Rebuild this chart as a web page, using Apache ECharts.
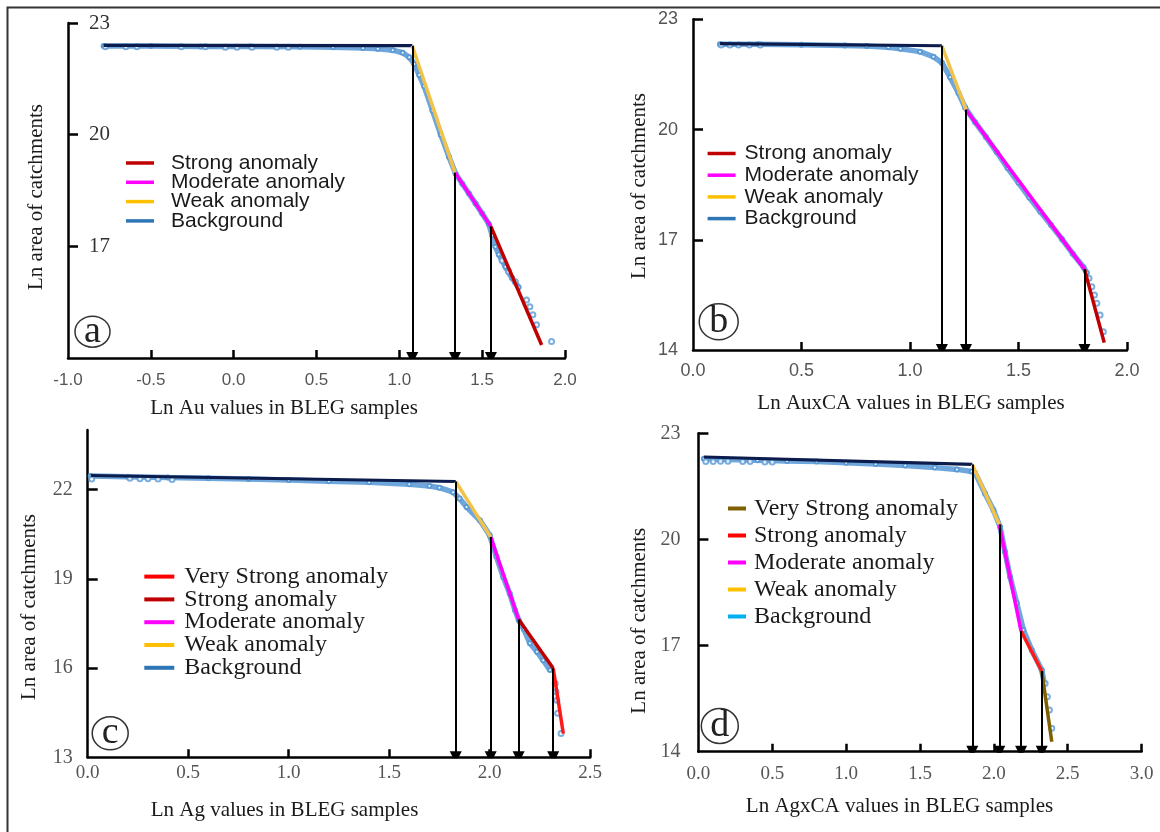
<!DOCTYPE html>
<html><head><meta charset="utf-8">
<script src="https://cdn.jsdelivr.net/npm/echarts@6/dist/echarts.min.js"></script>
<style>html,body{margin:0;padding:0;background:#fff}#c{width:1160px;height:832px}</style>
</head><body><div id="c"></div>
<script>
// ---------------- DATA ----------------
// Panel a: Ln Au
const curveA = [[-0.785,22.38],[-0.5,22.38],[-0.2,22.37],[0.1,22.37],[0.4,22.36],[0.6,22.35],[0.78,22.33],[0.87,22.31],[0.96,22.27],[1.02,22.2],[1.06,22.08],[1.09,21.9],[1.12,21.6],[1.15,21.3],[1.2,20.65],[1.25,20.0],[1.3,19.4],[1.34,18.95],[1.38,18.68],[1.42,18.42],[1.46,18.15],[1.5,17.88],[1.54,17.6],[1.56,17.3],[1.58,16.99],[1.6,16.78],[1.64,16.45],[1.68,16.15],[1.72,15.9]];
const dotsA = [[-0.774,22.36],[-0.651,22.36],[-0.584,22.36],[-0.316,22.36],[-0.171,22.36],[-0.05,22.35],[0.02,22.35],[0.11,22.35],[0.26,22.35],[0.33,22.35],[1.62,16.62],[1.66,16.32],[1.7,16.05],[1.768,15.56],[1.788,15.38],[1.806,15.16],[1.828,14.89],[1.919,14.44]];
const fitXA = [-0.785, 1.078, 1.336, 1.553, 1.859];
const fitYA = [22.40, 22.39, 18.98, 17.53, 14.35];
const segNamesA = ['Background','Weak anomaly','Moderate anomaly','Strong anomaly'];
const legendA = ['Strong anomaly','Moderate anomaly','Weak anomaly','Background'];
const xLabelsA = [-1.0,-0.5,0.0,0.5,1.0,1.5,2.0];
const yLabelsA = [17,20,23];

// Panel b: Ln AuxCA
const curveB = [[0.124,22.32],[0.3,22.32],[0.5,22.31],[0.7,22.29],[0.8,22.27],[0.9,22.24],[0.956,22.2],[1.046,22.12],[1.108,21.98],[1.147,21.82],[1.185,21.42],[1.223,21.0],[1.254,20.6],[1.3,20.2],[1.35,19.8],[1.4,19.38],[1.45,18.95],[1.5,18.55],[1.55,18.15],[1.6,17.77],[1.65,17.4],[1.7,17.02],[1.75,16.62],[1.8,16.25],[1.815,16.1]];
const dotsB = [[0.13,22.3],[0.17,22.3],[0.21,22.3],[0.26,22.3],[0.31,22.3],[1.825,15.95],[1.838,15.72],[1.85,15.5],[1.861,15.27],[1.876,14.95],[1.891,14.5]];
const fitXB = [0.124, 1.147, 1.258, 1.804, 1.895];
const fitYB = [22.34, 22.28, 20.54, 16.2, 14.2];
const segNamesB = ['Background','Weak anomaly','Moderate anomaly','Strong anomaly'];
const legendB = ['Strong anomaly','Moderate anomaly','Weak anomaly','Background'];
const xLabelsB = [0.0,0.5,1.0,1.5,2.0];
const yLabelsB = [14,17,20,23];

// Panel c: Ln Ag
const curveC = [[0.015,22.45],[0.2,22.43],[0.4,22.4],[0.6,22.38],[0.8,22.35],[1.0,22.32],[1.2,22.28],[1.4,22.24],[1.6,22.18],[1.7,22.12],[1.75,22.06],[1.818,21.91],[1.85,21.7],[1.885,21.41],[1.952,20.96],[2.0,20.46],[2.033,19.75],[2.067,19.06],[2.1,18.5],[2.126,17.94],[2.145,17.6],[2.17,17.3],[2.2,16.83],[2.235,16.55],[2.266,16.26],[2.3,15.93]];
const dotsC = [[0.02,22.35],[0.21,22.38],[0.26,22.36],[0.3,22.36],[0.35,22.35],[0.42,22.34],[2.326,15.48],[2.33,15.2],[2.334,14.92],[2.338,14.48],[2.355,13.8]];
const fitXC = [0.015, 1.831, 2.005, 2.144, 2.316, 2.366];
const fitYC = [22.47, 22.27, 20.4, 17.63, 15.99, 13.8];
const segNamesC = ['Background','Weak anomaly','Moderate anomaly','Strong anomaly','Very Strong anomaly'];
const legendC = ['Very Strong anomaly','Strong anomaly','Moderate anomaly','Weak anomaly','Background'];
const xLabelsC = [0.0,0.5,1.0,1.5,2.0,2.5];
const yLabelsC = [13,16,19,22];

// Panel d: Ln AgxCA
const curveD = [[0.037,22.28],[0.2,22.26],[0.4,22.24],[0.6,22.22],[0.8,22.2],[1.0,22.17],[1.2,22.13],[1.4,22.09],[1.6,22.03],[1.75,21.98],[1.85,21.92],[1.873,21.88],[1.94,21.3],[1.997,20.83],[2.042,20.36],[2.075,19.65],[2.11,18.94],[2.155,18.2],[2.2,17.44],[2.257,16.87],[2.324,16.31],[2.34,15.95]];
const dotsD = [[0.05,22.2],[0.1,22.2],[0.15,22.21],[0.2,22.21],[0.3,22.2],[0.35,22.2],[0.45,22.19],[0.5,22.19],[2.347,15.93],[2.362,15.55],[2.376,15.18],[2.392,14.66]];
const fitXD = [0.037, 1.854, 2.037, 2.184, 2.324, 2.392];
const fitYD = [22.33, 22.12, 20.42, 17.41, 16.28, 14.28];
const segNamesD = ['Background','Weak anomaly','Moderate anomaly','Strong anomaly','Very Strong anomaly'];
const legendD = ['Very Strong anomaly','Strong anomaly','Moderate anomaly','Weak anomaly','Background'];
const xLabelsD = [0.0,0.5,1.0,1.5,2.0,2.5,3.0];
const yLabelsD = [14,17,20,23];

// ---------------- STYLE / LAYOUT ----------------
const SERIF = "'Liberation Serif','Times New Roman',serif";
const SANS = "'Liberation Sans',Arial,sans-serif";
const NAVY = '#0c1c4c', YEL = '#f2c34a', MAG = '#ff00ff', DRED = '#c00000', RED = '#ff1a1a', OLIVE = '#7f6000';
const legendColor = {
  a: {'Strong anomaly':DRED,'Moderate anomaly':MAG,'Weak anomaly':'#ffc000','Background':'#2e75b6'},
  b: {'Strong anomaly':DRED,'Moderate anomaly':MAG,'Weak anomaly':'#ffc000','Background':'#2e75b6'},
  c: {'Very Strong anomaly':'#ff0000','Strong anomaly':DRED,'Moderate anomaly':MAG,'Weak anomaly':'#ffc000','Background':'#2e75b6'},
  d: {'Very Strong anomaly':OLIVE,'Strong anomaly':'#ff0000','Moderate anomaly':MAG,'Weak anomaly':'#ffc000','Background':'#00b0f0'}
};

const panels = [
 {id:'a', grid:{left:68,top:23,width:497,height:335}, xMin:-1, xMax:2, yMin:14, yMax:23,
  xLabels:xLabelsA, xTicks:xLabelsA.slice(1), yLabels:yLabelsA, yTicks:[17,20,23],
  xFont:SANS, xSize:17, xColor:'#555', xMargin:14, yFont:SERIF, ySize:21, yColor:'#333', yInside:true, yMargin:21,
  curve:curveA, dots:dotsA, fitX:fitXA, fitY:fitYA, segNames:segNamesA, segColors:[NAVY,YEL,MAG,DRED],
  legend:{names:legendA, left:126, top:152.5, w:28, h:3.5, gap:-1.7, font:SANS, size:21, lh:21, pad:12},
  xName:{text:'Ln Au values in BLEG samples', x:284, y:408}, yName:{text:'Ln area of catchments', x:36, y:197},
  tag:{t:'a', cx:92.5, cy:331.7, rx:17.5, ry:15.5}},
 {id:'b', grid:{left:693,top:19.3,width:434,height:330.7}, xMin:0, xMax:2, yMin:14, yMax:23,
  xLabels:xLabelsB, xTicks:xLabelsB.slice(1), yLabels:yLabelsB, yTicks:[17,20,23],
  xFont:SANS, xSize:18, xColor:'#555', xMargin:12, yFont:SANS, ySize:18, yColor:'#555', yInside:false, yMargin:15,
  curve:curveB, dots:dotsB, fitX:fitXB, fitY:fitYB, segNames:segNamesB, segColors:[NAVY,YEL,MAG,DRED],
  legend:{names:legendB, left:707.6, top:143, w:28, h:3.5, gap:0.7, font:SANS, size:21, lh:21, pad:4},
  xName:{text:'Ln AuxCA values in BLEG samples', x:911, y:403}, yName:{text:'Ln area of catchments', x:639, y:186},
  tag:{t:'b', cx:718.7, cy:321.7, rx:19.5, ry:18}},
 {id:'c', grid:{left:87.7,top:430,width:502.5,height:327.3}, xMin:0, xMax:2.5, yMin:13, yMax:24,
  xLabels:xLabelsC, xTicks:xLabelsC.slice(1), yLabels:yLabelsC, yTicks:[16,19,22],
  xFont:SERIF, xSize:19, xColor:'#555', xMargin:6, yFont:SERIF, ySize:20, yColor:'#555', yInside:false, yMargin:15,
  curve:curveC, dots:dotsC, fitX:fitXC, fitY:fitYC, segNames:segNamesC, segColors:[NAVY,YEL,MAG,DRED,RED],
  legend:{names:legendC, left:144.3, top:564.6, w:30, h:4, gap:-1.2, font:SERIF, size:24, lh:24, pad:5},
  xName:{text:'Ln Ag values in BLEG samples', x:284.5, y:810}, yName:{text:'Ln area of catchments', x:29, y:607},
  tag:{t:'c', cx:110.2, cy:733.3, rx:18, ry:16.5}},
 {id:'d', grid:{left:698.4,top:433.3,width:443.2,height:318.4}, xMin:0, xMax:3, yMin:14, yMax:23,
  xLabels:xLabelsD, xTicks:xLabelsD.slice(1), yLabels:yLabelsD, yTicks:[17,20,23],
  xFont:SERIF, xSize:19, xColor:'#555', xMargin:13, yFont:SERIF, ySize:20, yColor:'#555', yInside:false, yMargin:18,
  curve:curveD, dots:dotsD, fitX:fitXD, fitY:fitYD, segNames:segNamesD, segColors:[NAVY,YEL,MAG,RED,OLIVE],
  legend:{names:legendD, left:728, top:496.5, w:18, h:4, gap:3, font:SERIF, size:24, lh:24, pad:3},
  xName:{text:'Ln AgxCA values in BLEG samples', x:899.5, y:806.7}, yName:{text:'Ln area of catchments', x:639, y:620.7},
  tag:{t:'d', cx:719.8, cy:726, rx:18.5, ry:17.5}}
];

const AX = {color:'#000', width:2.5};
const option = {animation:false, backgroundColor:'#fff', grid:[], xAxis:[], yAxis:[], series:[], legend:[], graphic:[]};

panels.forEach((p, i) => {
  option.grid.push(Object.assign({containLabel:false}, p.grid));
  option.xAxis.push({type:'value', gridIndex:i, min:p.xMin, max:p.xMax, interval:0.5,
    axisLine:{show:true, onZero:false, lineStyle:AX},
    axisTick:{show:true, inside:true, length:8, lineStyle:AX, customValues:p.xTicks},
    axisLabel:{customValues:p.xLabels, formatter:v=>Number(v).toFixed(1), margin:p.xMargin,
      fontFamily:p.xFont, fontSize:p.xSize, color:p.xColor, showMinLabel:true, showMaxLabel:true},
    splitLine:{show:false}});
  option.yAxis.push({type:'value', gridIndex:i, min:p.yMin, max:p.yMax, interval:3,
    axisLine:{show:true, onZero:false, lineStyle:AX},
    axisTick:{show:true, inside:true, length:10, lineStyle:AX, customValues:p.yTicks},
    axisLabel:{customValues:p.yLabels, inside:p.yInside, margin:p.yMargin,
      fontFamily:p.yFont, fontSize:p.ySize, color:p.yColor},
    splitLine:{show:false}});
  // data curve (thick blue band of points)
  option.series.push({type:'line', name:'Background', xAxisIndex:i, yAxisIndex:i, data:p.curve,
    symbol:'emptyCircle', symbolSize:4, showSymbol:true, silent:true, z:2,
    lineStyle:{width:5.5, color:'#6fa6dc'}, itemStyle:{color:'#5b9bd5', borderWidth:1}});
  option.series.push({type:'scatter', xAxisIndex:i, yAxisIndex:i, data:p.dots, silent:true, z:2,
    symbol:'emptyCircle', symbolSize:5, itemStyle:{color:'#5b9bd5', borderWidth:1.2}});
  // fitted segments
  for (let k = 0; k < p.fitX.length - 1; k++) {
    option.series.push({type:'line', name:p.segNames[k], xAxisIndex:i, yAxisIndex:i, silent:true, z:3,
      data:[[p.fitX[k], p.fitY[k]], [p.fitX[k+1], p.fitY[k+1]]], symbol:'none',
      lineStyle:{color:p.segColors[k], width:k===0?3.2:3.5}});
  }
  // threshold arrows
  option.series.push({type:'lines', coordinateSystem:'cartesian2d', xAxisIndex:i, yAxisIndex:i, z:4, silent:true,
    data:p.fitX.slice(1, -1).map((x, j) => ({coords:[[x, p.fitY[j+1]], [x, p.yMin]]})),
    symbol:['none','triangle'], symbolSize:[0, 12],
    lineStyle:{color:'#000', width:2, opacity:1}});
  // legend
  const L = p.legend;
  option.legend.push({orient:'vertical', left:L.left, top:L.top, icon:'rect', itemWidth:L.w, itemHeight:L.h,
    itemGap:L.gap, selectedMode:false, padding:0,
    data:L.names.map(n => ({name:n, itemStyle:{color:legendColor[p.id][n]}})),
    textStyle:{fontFamily:L.font, fontSize:L.size, color:'#1a1a1a', lineHeight:L.lh, padding:[0,0,0,L.pad]}});
  // axis names
  option.graphic.push({type:'text', x:p.xName.x, y:p.xName.y, silent:true,
    style:{text:p.xName.text, font:'21px ' + SERIF, fill:'#1a1a1a', align:'center', verticalAlign:'middle'}});
  option.graphic.push({type:'text', x:p.yName.x, y:p.yName.y, rotation:Math.PI/2, silent:true,
    style:{text:p.yName.text, font:'21px ' + SERIF, fill:'#1a1a1a', align:'center', verticalAlign:'middle'}});
  // panel tag
  option.graphic.push({type:'ellipse', silent:true, shape:{cx:p.tag.cx, cy:p.tag.cy, rx:p.tag.rx, ry:p.tag.ry},
    style:{fill:'none', stroke:'#333', lineWidth:1.5}});
  option.graphic.push({type:'text', x:p.tag.cx, y:p.tag.cy, silent:true,
    style:{text:p.tag.t, font:'38px ' + SERIF, fill:'#222', align:'center', verticalAlign:'middle'}});
});

// outer frame
option.graphic.push({type:'rect', silent:true, shape:{x:7.5, y:7.5, width:1300, height:1000},
  style:{fill:'none', stroke:'#333', lineWidth:2}});

const chart = echarts.init(document.getElementById('c'), null, {renderer:'canvas'});
chart.setOption(option);
</script></body></html>
